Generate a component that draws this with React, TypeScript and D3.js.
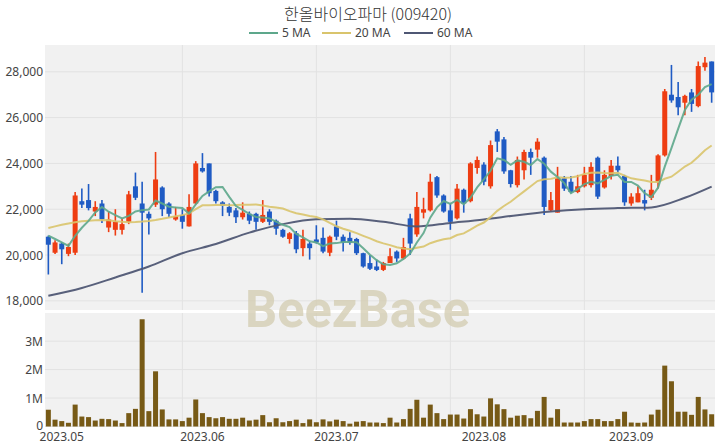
import React from 'react';
import * as d3 from 'd3';

const opens = [20800,20100,20500,20050,20100,22350,22400,21900,22250,21200,21100,21100,21450,23000,22250,21800,22200,22950,22250,21550,21750,21250,22250,23800,24000,22800,22300,22100,21950,21650,21800,21800,21450,21900,21500,21100,20700,20950,20300,20500,20680,20750,20100,21250,20800,20750,20700,20080,19650,19500,19350,19650,20150,19850,21600,20900,21850,21950,23400,22600,21950,21600,22850,22350,23800,23950,23000,25400,25050,23700,23050,23700,24500,24600,24250,21950,21850,23350,23200,22750,23000,23050,24250,22950,23450,23900,23450,22250,22300,22400,22500,23200,24350,27000,26900,26650,27100,26500,28200,28450];
const highs = [20850,20650,20550,20500,22750,22900,23100,22350,22400,21900,22000,21600,22800,23600,23200,21900,24500,23000,22300,22100,22000,22650,24100,24450,24000,22850,22350,22250,22050,22300,21900,21850,22400,22000,21550,21150,21000,21050,21100,20600,21300,21200,20850,21500,20900,21000,20750,20100,20000,19800,19700,20300,20200,20750,21800,22750,22500,23550,23450,22650,22250,23100,22900,24050,24300,24050,25000,25500,25150,23720,24300,24600,24650,25100,24300,22750,23850,23450,23450,23500,23850,24050,24300,23700,24150,24300,23500,22700,23000,22850,23500,24400,27250,28300,27550,27000,27250,28450,28650,28450];
const lows = [19150,20050,19600,19950,20000,22050,21950,21700,21400,21000,20850,20900,21350,22400,18350,20900,22100,21700,21650,21500,21150,21250,22200,23600,22550,22250,21700,21700,21400,21550,21350,21100,21400,21300,20880,20750,20500,20080,19950,19800,20500,20080,19950,20650,20150,20450,20000,19450,19350,19300,19300,19650,19700,19800,20000,20800,21600,21900,22500,21850,21100,21550,21850,22300,23550,23050,22900,24500,23550,22950,22950,23300,23500,24250,21750,21900,21850,22800,22700,22700,22950,22950,22450,22900,23300,23600,22150,22150,22300,21950,22400,22900,24300,26650,26100,26100,26250,26450,28050,26650];
const closes = [20450,20550,20250,20350,22600,22200,22050,22100,21550,21550,21450,21350,22650,22500,21850,21600,23300,22000,21800,21700,21450,22100,24000,23650,22700,22350,22150,21850,21650,21850,21500,21450,21750,21450,21150,20800,20950,20250,20700,20300,20550,20150,20800,20800,20550,20550,20080,19500,19400,19350,19650,19950,19850,20350,20500,22100,22000,23200,22600,21900,21450,22900,22250,24000,24150,23200,24800,24950,23650,23100,24150,24500,24250,24950,22100,22400,23350,22900,22750,23000,23500,23850,22550,23500,23900,23700,22300,22550,22700,22250,22850,24350,27150,26750,26450,26950,26600,28250,28400,27100];
const volumesM = [0.59,0.24,0.19,0.13,0.77,0.35,0.33,0.21,0.27,0.26,0.21,0.12,0.47,0.62,3.77,0.54,1.94,0.60,0.25,0.25,0.19,0.31,0.95,0.47,0.33,0.29,0.33,0.27,0.27,0.31,0.21,0.24,0.40,0.15,0.29,0.15,0.19,0.24,0.12,0.25,0.15,0.25,0.18,0.24,0.19,0.10,0.17,0.19,0.14,0.14,0.12,0.31,0.14,0.26,0.62,0.94,0.31,0.77,0.47,0.26,0.42,0.42,0.28,0.61,0.43,0.35,0.99,0.78,0.61,0.31,0.38,0.40,0.29,0.55,1.04,0.31,0.61,0.14,0.14,0.14,0.19,0.26,0.26,0.19,0.19,0.26,0.52,0.14,0.13,0.14,0.42,0.59,2.14,1.59,0.52,0.52,0.41,1.04,0.60,0.43];

// moving-average values before enough in-window closes exist
const ma5Lead = [20850, 20700, 20550, 20400];
const ma20Lead = [21180,21250,21320,21380,21430,21470,21500,21520,21530,21520,21480,21450,21430,21440,21460,21490,21530,21580,21640];
const ma60Idx = [0,5,10,15,20,25,30,35,40,45,50,55,60,65,70,75,80,85,90,95,99];
const ma60Vals = [18220,18560,19020,19500,20080,20480,20980,21350,21560,21580,21450,21250,21400,21550,21740,21900,22000,22050,22080,22500,22990];

const xTickIdx = [2, 23, 43, 65, 87];
const xTickLabels = ['2023.05', '2023.06', '2023.07', '2023.08', '2023.09'];
const gridIdx = [20, 40, 60, 80];
const priceTicks = [18000, 20000, 22000, 24000, 26000, 28000];
const volTicks = [0, 1000000, 2000000, 3000000];
const volTickLabels = ['0', '1M', '2M', '3M'];

const legendNames = ['5 MA', '20 MA', '60 MA'];
const maColors = ['#5da78b', '#d9c46c', '#4f5774'];

const UP = '#ee3d12';
const DOWN = '#1f5bc4';
const VOLC = '#775a16';
const FONT = "'Noto Sans', 'Noto Sans CJK KR', sans-serif";

function movingAvg(period: number, lead: number[]) {
  return closes.map((_, i) => {
    if (i < period - 1) return lead[i];
    const s = d3.sum(closes.slice(i - period + 1, i + 1));
    return s / period;
  });
}

export default function App() {
  const L = 45, R = 715, PT = 45, PB = 310, VT = 313, VB = 427;
  const n = closes.length;
  const x = d3.scaleLinear().domain([-0.5, n - 0.5]).range([L, R]);
  const yP = d3.scaleLinear().domain([17600, 29170]).range([PB, PT]);
  const yV = d3.scaleLinear().domain([0, 3.99e6]).range([426.5, VT]);

  const ma5 = movingAvg(5, ma5Lead);
  const ma20 = movingAvg(20, ma20Lead);
  const line = d3.line<number>().x((_, i) => x(i)).y(d => yP(d));
  const line60 = d3.line<number>().x((_, i) => x(ma60Idx[i])).y(d => yP(d)).curve(d3.curveMonotoneX);

  const bw = 5;
  const legendX = [249, 322, 404];

  return (
    <div style={{ position: 'absolute', left: 0, top: 0 }}>
      <svg width={720} height={448} style={{ display: 'block', fontFamily: FONT }}>
        <rect x={0} y={0} width={720} height={448} fill="#ffffff" />
        <text x={368} y={20} textAnchor="middle" fontSize={16} fontWeight={300} fill="#333"
          fontFamily="'Noto Sans CJK KR', 'Noto Sans', sans-serif">한올바이오파마 (009420)</text>
        {legendNames.map((nm, k) => (
          <g key={nm}>
            <line x1={legendX[k]} x2={legendX[k] + 29} y1={33} y2={33} stroke={maColors[k]} strokeWidth={2} />
            <text x={legendX[k] + 33} y={37} fontSize={12} fill="#444">{nm}</text>
          </g>
        ))}

        {/* panels */}
        <rect x={L} y={PT} width={R - L} height={PB - PT} fill="#f1f1f1" />
        <rect x={L} y={VT} width={R - L} height={VB - VT} fill="#f1f1f1" />
        {priceTicks.map(t => (
          <line key={'pg' + t} x1={L} x2={R} y1={yP(t)} y2={yP(t)} stroke="#e2e2e2" strokeWidth={1} />
        ))}
        {volTicks.map(t => (
          <line key={'vg' + t} x1={L} x2={R} y1={yV(t)} y2={yV(t)} stroke="#e2e2e2" strokeWidth={1} />
        ))}
        {gridIdx.map(g => (
          <g key={'xg' + g}>
            <line x1={x(g)} x2={x(g)} y1={PT} y2={PB} stroke="#e2e2e2" strokeWidth={1} />
            <line x1={x(g)} x2={x(g)} y1={VT} y2={VB} stroke="#e2e2e2" strokeWidth={1} />
          </g>
        ))}

        {/* axis labels */}
        {priceTicks.map(t => (
          <text key={'pt' + t} x={43} y={yP(t) + 4.5} textAnchor="end" fontSize={12} fill="#444">{d3.format(',')(t)}</text>
        ))}
        {volTicks.map((t, k) => (
          <text key={'vt' + t} x={43} y={yV(t) + (t === 0 ? 3 : 4.5)} textAnchor="end" fontSize={12} fill="#444">{volTickLabels[k]}</text>
        ))}
        {xTickIdx.map((ix, k) => (
          <text key={'xt' + ix} x={x(ix)} y={441} textAnchor="middle" fontSize={12} fill="#444">{xTickLabels[k]}</text>
        ))}

        {/* volume */}
        {volumesM.map((v, i) => (
          <rect key={'v' + i} x={x(i) - bw / 2} y={yV(v * 1e6)} width={bw} height={yV(0) - yV(v * 1e6)} fill={VOLC} />
        ))}

        {/* candles */}
        {closes.map((c, i) => {
          const o = opens[i];
          const col = c >= o ? UP : DOWN;
          const top = yP(Math.max(o, c));
          const bot = yP(Math.min(o, c));
          return (
            <g key={'c' + i}>
              <line x1={x(i)} x2={x(i)} y1={yP(highs[i])} y2={yP(lows[i])} stroke={col} strokeWidth={1.6} />
              <rect x={x(i) - bw / 2} y={top} width={bw} height={Math.max(1, bot - top)} fill={col} />
            </g>
          );
        })}

        {/* moving averages */}
        <path d={line60(ma60Vals) || ''} fill="none" stroke={maColors[2]} strokeWidth={2} opacity={0.95} />
        <path d={line(ma20) || ''} fill="none" stroke={maColors[1]} strokeWidth={2} opacity={0.9} />
        <path d={line(ma5) || ''} fill="none" stroke={maColors[0]} strokeWidth={2} opacity={0.9} />

        {/* watermark */}
        <text x={357.5} y={327} textAnchor="middle" fontSize={52} fontWeight={700} fill="#d3ccb0" opacity={0.75}
          fontFamily="Roboto, 'Open Sans', sans-serif" textLength={225} lengthAdjust="spacingAndGlyphs">BeezBase</text>
      </svg>
    </div>
  );
}
